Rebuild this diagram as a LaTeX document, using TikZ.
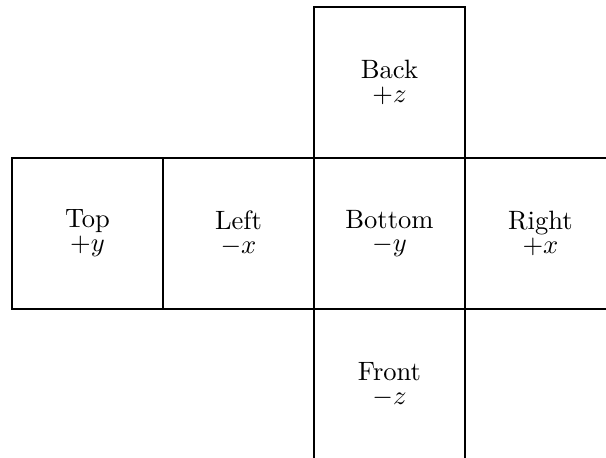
\documentclass[tikz,border=0pt]{standalone}
\begin{document}
\begin{tikzpicture}[scale=1,
  face/.style={draw, minimum size=2cm, inner sep=0pt, align=center}]

% Cadre
\useasboundingbox (-0.159,-1.973) rectangle (7.868,4.093);

% Faces
\node[face] (top) at (1,1) {Top\\[-3pt]$+y$};
\node[face] (left) at (3,1) {Left\\[-3pt]$-x$};
\node[face] (bottom) at (5,1) {Bottom\\[-3pt]$-y$};
\node[face] (right) at (7,1) {Right\\[-3pt]$+x$};
\node[face] (back) at (5,3) {Back\\[-3pt]$+z$};
\node[face] (front) at (5,-1) {Front\\[-3pt]$-z$};

\end{tikzpicture}
\end{document}
